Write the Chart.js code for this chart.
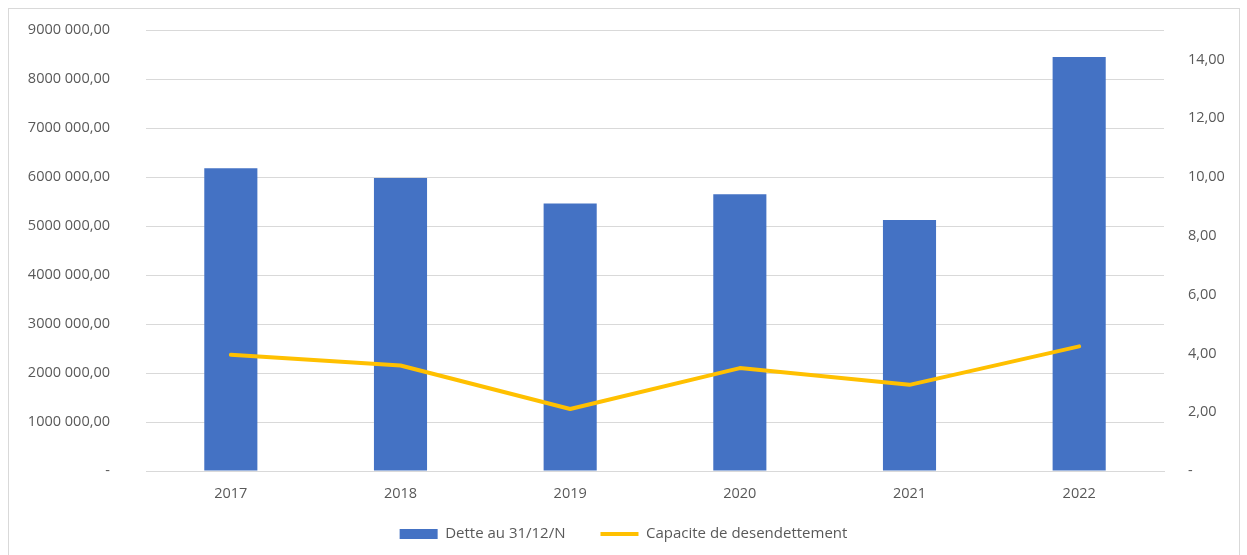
<!DOCTYPE html>
<html>
<head>
<meta charset="utf-8">
<script src="https://cdn.jsdelivr.net/npm/chart.js@4/dist/chart.umd.min.js"></script>
<style>
  html, body { margin: 0; padding: 0; background: #ffffff; }
  #wrap { position: relative; width: 1247px; height: 555px; }
</style>
</head>
<body>
<div id="wrap"><canvas id="c" width="1247" height="555"></canvas></div>
<script>
// ---- Data ----
const categories = ['2017', '2018', '2019', '2020', '2021', '2022'];
const detteValues = [6180000, 5980000, 5460000, 5650000, 5120000, 8450000];
const capaciteValues = [3.95, 3.59, 2.11, 3.50, 2.93, 4.24];
const leftTickValues = [0, 1000000, 2000000, 3000000, 4000000, 5000000, 6000000, 7000000, 8000000, 9000000];
const leftTickLabels = ['-', '1000 000,00', '2000 000,00', '3000 000,00', '4000 000,00', '5000 000,00', '6000 000,00', '7000 000,00', '8000 000,00', '9000 000,00'];
const rightTickValues = [0, 2, 4, 6, 8, 10, 12, 14];
const rightTickLabels = ['-', '2,00', '4,00', '6,00', '8,00', '10,00', '12,00', '14,00'];
const seriesNames = ['Dette au 31/12/N', 'Capacite de desendettement'];

const FONT = "'Open Sans', 'Liberation Sans', sans-serif";
const TEXT = '#595959';
const GRID = '#d9d9d9';
const BAR_COLOR = '#4472c4';
const LINE_COLOR = '#ffc000';
const NONE = 'rgba(0,0,0,0)';

const borderPlugin = {
  id: 'outerBorder',
  beforeDraw(chart) {
    const ctx = chart.ctx;
    ctx.save();
    ctx.fillStyle = '#ffffff';
    ctx.fillRect(0, 0, chart.width, chart.height);
    ctx.strokeStyle = '#d9d9d9';
    ctx.lineWidth = 1;
    ctx.strokeRect(8.5, 8.5, 1231, 570);
    ctx.restore();
  }
};

// let the category labels extend below the thin x-axis box (avoid label clipping)
const xLabelRoom = {
  id: 'xLabelRoom',
  afterLayout(chart) {
    const x = chart.scales.x;
    if (x) { x.bottom = x.top + 40; x.height = 40; }
  }
};

new Chart(document.getElementById('c'), {
  data: {
    labels: categories,
    datasets: [
      {
        type: 'bar',
        label: seriesNames[0],
        data: detteValues,
        backgroundColor: BAR_COLOR,
        borderWidth: 0,
        yAxisID: 'y',
        categoryPercentage: 1,
        barPercentage: 0.313,
        order: 2
      },
      {
        type: 'line',
        label: seriesNames[1],
        data: capaciteValues,
        borderColor: LINE_COLOR,
        backgroundColor: LINE_COLOR,
        borderWidth: 4,
        pointRadius: 0,
        pointHoverRadius: 0,
        tension: 0,
        borderCapStyle: 'round',
        borderJoinStyle: 'round',
        yAxisID: 'y1',
        order: 1
      }
    ]
  },
  options: {
    responsive: false,
    animation: false,
    devicePixelRatio: 1,
    layout: { padding: { left: 0, right: 0, top: 30, bottom: 3.5 } },
    plugins: {
      tooltip: { enabled: false },
      legend: {
        position: 'bottom',
        labels: {
          usePointStyle: true,
          pointStyleWidth: 38,
          boxHeight: 10,
          padding: 35,
          color: TEXT,
          font: { family: FONT, size: 15 },
          sort: (a, b) => a.datasetIndex - b.datasetIndex,
          generateLabels(chart) {
            const items = Chart.defaults.plugins.legend.labels.generateLabels(chart);
            items.forEach((it) => {
              if (it.datasetIndex === 0) { it.pointStyle = 'rect'; it.lineWidth = 0; it.fillStyle = BAR_COLOR; }
              else { it.pointStyle = 'line'; it.lineWidth = 4; it.strokeStyle = LINE_COLOR; }
              it.fontColor = TEXT;
            });
            return items;
          }
        }
      }
    },
    scales: {
      x: {
        grid: { display: false, drawTicks: false },
        border: { display: true, color: GRID, width: 1 },
        ticks: { color: TEXT, font: { family: FONT, size: 14.5 }, padding: 14.3, maxRotation: 0, autoSkip: false },
        afterFit(scale) { scale.height = 20.5; }
      },
      y: {
        position: 'left',
        min: 0,
        max: 9000000,
        grid: { color: GRID, lineWidth: 1, drawTicks: true, tickLength: 30, tickColor: NONE },
        border: { display: false },
        afterBuildTicks(scale) { scale.ticks = leftTickValues.map(v => ({ value: v })); },
        ticks: {
          color: TEXT,
          font: { family: FONT, size: 14.5 },
          padding: 6,
          callback(value) {
            const i = leftTickValues.indexOf(value);
            return i >= 0 ? leftTickLabels[i] : '';
          }
        },
        afterFit(scale) { scale.width = 146; }
      },
      y1: {
        position: 'right',
        min: 0,
        max: 15,
        grid: { display: true, drawOnChartArea: false, drawTicks: true, tickLength: 20, tickColor: NONE, color: NONE },
        border: { display: false },
        afterBuildTicks(scale) { scale.ticks = rightTickValues.map(v => ({ value: v })); },
        ticks: {
          color: TEXT,
          font: { family: FONT, size: 14.5 },
          padding: 4,
          callback(value) {
            const i = rightTickValues.indexOf(value);
            return i >= 0 ? rightTickLabels[i] : '';
          }
        },
        afterFit(scale) { scale.width = 83; }
      }
    }
  },
  plugins: [borderPlugin, xLabelRoom]
});
</script>
</body>
</html>
